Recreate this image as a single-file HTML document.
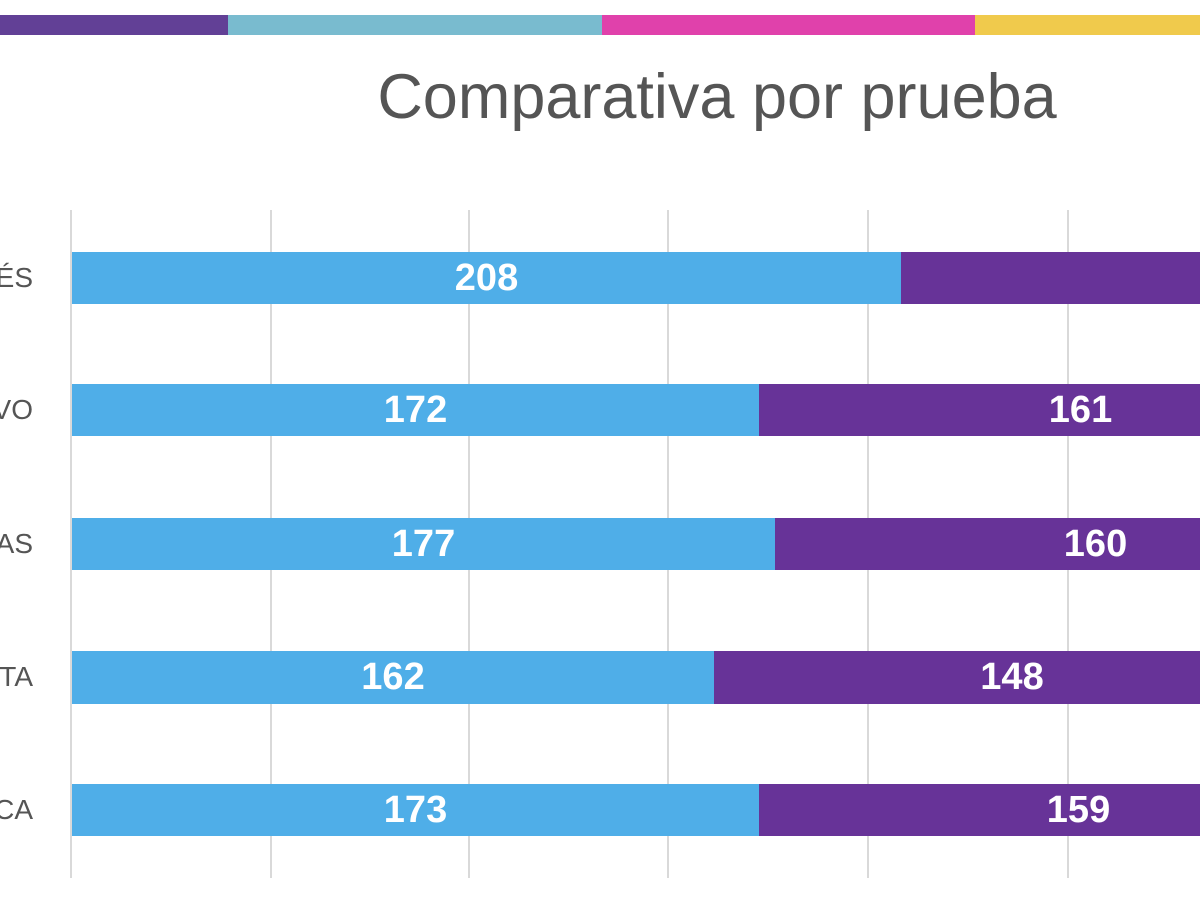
<!DOCTYPE html>
<html><head><meta charset="utf-8"><style>
html,body{margin:0;padding:0;background:#fff;}
body{width:1200px;height:897px;position:relative;overflow:hidden;font-family:"Liberation Sans",sans-serif;}
div{position:absolute;}
.g{top:210px;height:668px;width:2px;background:#d9d9d9;}
.b{background:#4faee8;}
.p{background:#673398;}
.v{color:#fff;font-weight:bold;font-size:38px;text-align:center;line-height:52px;}
.l{color:#555;font-size:28px;right:1167px;text-align:right;line-height:52px;}
</style></head><body>
<div style="left:0;top:15px;width:228px;height:20px;background:#624096"></div>
<div style="left:228px;top:15px;width:374px;height:20px;background:#79bbcf"></div>
<div style="left:602px;top:15px;width:373px;height:20px;background:#e041ab"></div>
<div style="left:975px;top:15px;width:225px;height:20px;background:#f0ca4c"></div>
<div style="left:0;width:1434px;top:62px;text-align:center;font-size:63px;color:#555;line-height:70px">Comparativa por prueba</div>
<div class="g" style="left:70px"></div><div class="g" style="left:270px"></div><div class="g" style="left:468px"></div><div class="g" style="left:667px"></div><div class="g" style="left:867px"></div><div class="g" style="left:1067px"></div>

<div class="b v" style="left:72px;top:252px;width:829px;height:52px">208</div>
<div class="p v" style="left:901px;top:252px;width:299px;height:52px"></div>
<div class="l" style="top:252px">ÉS</div>

<div class="b v" style="left:72px;top:384px;width:687px;height:52px">172</div>
<div class="p v" style="left:759px;top:384px;width:441px;height:52px;text-indent:202px">161</div>
<div class="l" style="top:384px">VO</div>

<div class="b v" style="left:72px;top:518px;width:703px;height:52px">177</div>
<div class="p v" style="left:775px;top:518px;width:425px;height:52px;text-indent:216px">160</div>
<div class="l" style="top:518px">AS</div>

<div class="b v" style="left:72px;top:651px;width:642px;height:53px;line-height:53px">162</div>
<div class="p v" style="left:714px;top:651px;width:486px;height:53px;line-height:53px;text-indent:110px">148</div>
<div class="l" style="top:651px">TA</div>

<div class="b v" style="left:72px;top:784px;width:687px;height:52px">173</div>
<div class="p v" style="left:759px;top:784px;width:441px;height:52px;text-indent:198px">159</div>
<div class="l" style="top:784px">CA</div>
</body></html>
